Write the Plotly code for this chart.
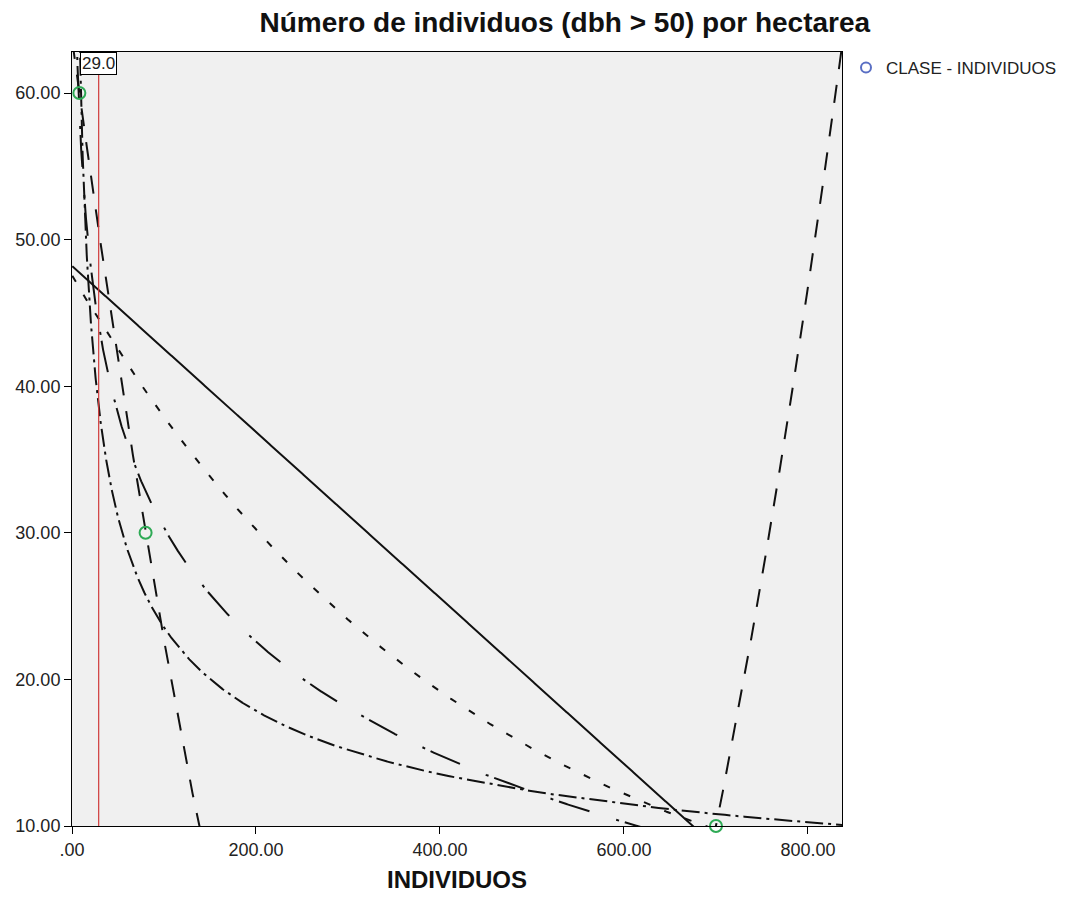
import numpy as np
import plotly.graph_objects as go

# Data
individuos = [8, 80, 700]          # x values
clase = [60, 30, 10]               # y values
ref_line_x = 29.0

x_ticks = [0, 200, 400, 600, 800]
x_tick_labels = [".00", "200.00", "400.00", "600.00", "800.00"]
y_ticks = [10, 20, 30, 40, 50, 60]
y_tick_labels = ["10.00", "20.00", "30.00", "40.00", "50.00", "60.00"]

x_range = [0, 837]
y_range = [10, 62.8]

xd = np.array(individuos, dtype=float)
yd = np.array(clase, dtype=float)
xs = np.linspace(0.3, 845, 5000)

# Curve estimation models (fitted from the data)
lin = np.polyval(np.polyfit(xd, yd, 1), xs)
quad = np.polyval(np.polyfit(xd, yd, 2), xs)
lb = np.polyfit(np.log(xd), yd, 1)
logc = lb[0] * np.log(xs) + lb[1]
pb = np.polyfit(np.log(xd), np.log(yd), 1)
powc = np.exp(pb[1]) * xs ** pb[0]
eb = np.polyfit(xd, np.log(yd), 1)
expc = np.exp(eb[1] + eb[0] * xs)

fig = go.Figure()

line_specs = [
    (lin, "solid"),
    (quad, "18px,16px"),
    (logc, "3px,6px,32px,28px"),
    (powc, "18px,5px,3px,5px"),
    (expc, "7px,15px"),
]
for ys, dash in line_specs:
    fig.add_trace(go.Scatter(x=xs, y=ys, mode="lines",
                             line=dict(color="#111111", width=2, dash=dash),
                             showlegend=False, hoverinfo="skip"))

fig.add_trace(go.Scatter(x=individuos, y=clase, mode="markers",
                         marker=dict(symbol="circle-open", size=12, color="#2eaa55",
                                     line=dict(width=2, color="#2eaa55")),
                         showlegend=False, cliponaxis=False))

# legend entry
fig.add_trace(go.Scatter(x=[None], y=[None], mode="markers", name="CLASE - INDIVIDUOS",
                         marker=dict(symbol="circle-open", size=10, color="#5a6fc4",
                                     line=dict(width=2, color="#5a6fc4"))))

fig.add_shape(type="line", xref="x", yref="paper", x0=ref_line_x, x1=ref_line_x,
              y0=0, y1=1, line=dict(color="#d03a3a", width=1.2))
fig.add_annotation(x=ref_line_x, y=1, xref="x", yref="paper", yanchor="top",
                   text=f"{ref_line_x:.1f}", showarrow=False,
                   bgcolor="white", bordercolor="black", borderwidth=1, borderpad=1,
                   font=dict(size=17, color="#222222", family="Liberation Sans, Arial"))

tick_font = dict(size=18, color="#222222", family="Liberation Sans, Arial")

W, H = 1060, 897
fig.update_layout(
    width=W, height=H,
    margin=dict(l=64, r=226, t=44, b=79, autoexpand=False),
    paper_bgcolor="white",
    plot_bgcolor="#f0f0f0",
    title=dict(text="<b>Número de individuos (dbh > 50) por hectarea</b>",
               x=0.64, xref="paper", xanchor="center",
               y=1 - 14 / H, yref="container", yanchor="middle",
               font=dict(size=28, color="#111111", family="Liberation Sans, Arial")),
    xaxis=dict(range=x_range, tickvals=x_ticks, ticktext=x_tick_labels,
               showgrid=False, zeroline=False, showline=True, linecolor="black", linewidth=1,
               mirror=True, ticks="outside", ticklen=7, tickcolor="black", tickfont=tick_font,
               automargin=False,
               title=dict(text="<b>INDIVIDUOS</b>", standoff=12,
                          font=dict(size=24, color="#111111", family="Liberation Sans, Arial"))),
    yaxis=dict(range=y_range, tickvals=y_ticks, ticktext=y_tick_labels,
               showgrid=False, zeroline=False, showline=True, linecolor="black", linewidth=1,
               mirror=True, ticks="outside", ticklen=7, tickcolor="black", tickfont=tick_font,
               automargin=False),
    legend=dict(x=838 / W, y=1 - 42 / H, xref="container", yref="container",
                xanchor="left", yanchor="top", bgcolor="rgba(0,0,0,0)",
                font=dict(size=17, color="#222222", family="Liberation Sans, Arial"),
                itemwidth=30),
    showlegend=True,
)

fig.write_html("out.html")
